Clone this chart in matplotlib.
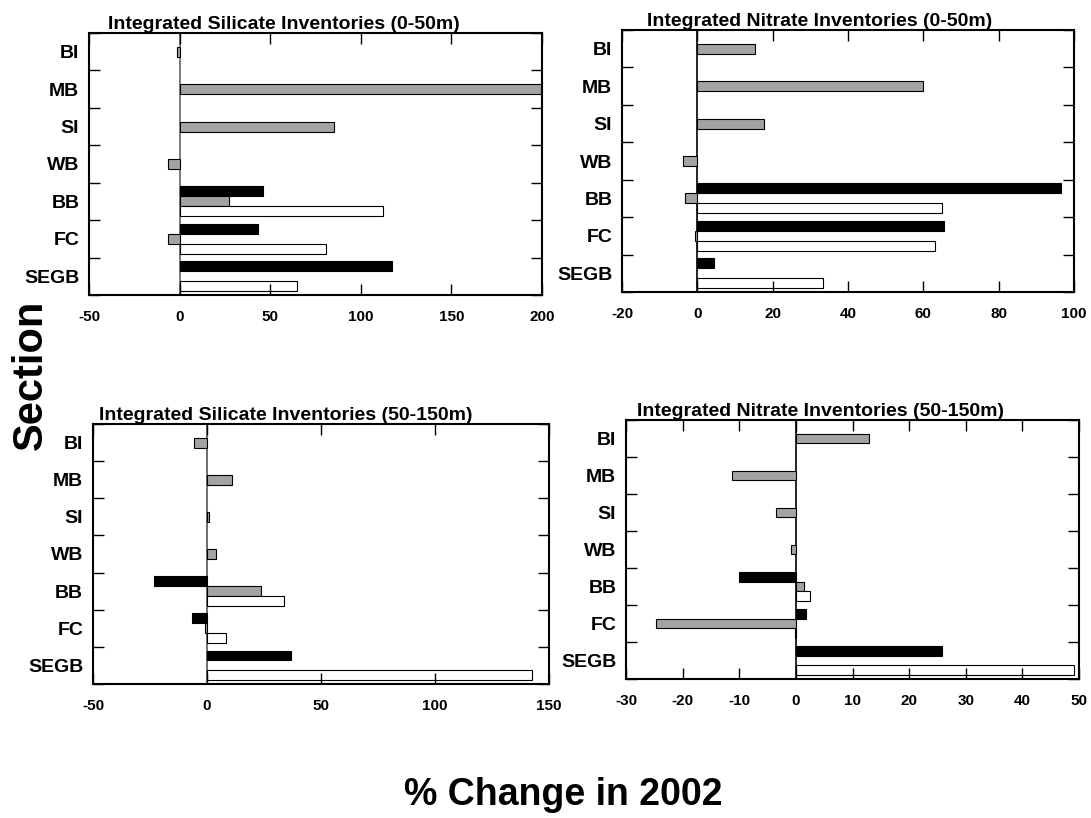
import numpy as np
import matplotlib.pyplot as plt

plt.rcParams['font.family'] = ['Liberation Sans', 'DejaVu Sans']
plt.rcParams['font.weight'] = 'bold'

sections = ['BI', 'MB', 'SI', 'WB', 'BB', 'FC', 'SEGB']
nan = np.nan

# silicate 0-50m
si_top_black = [nan, nan, nan, nan, 46, 43, 117]
si_top_grey = [-1.2, 200, 85, -6.2, 27, -6.2, nan]
si_top_white = [nan, nan, nan, nan, 112, 81, 65]

# nitrate 0-50m
no3_top_black = [nan, nan, nan, nan, 96.6, 65.5, 4.5]
no3_top_grey = [15.4, 59.8, 17.7, -3.9, -3.2, -0.6, nan]
no3_top_white = [nan, nan, nan, nan, 64.9, 63, 33.4]

# silicate 50-150m
si_deep_black = [nan, nan, nan, nan, -23.2, -6.5, 36.8]
si_deep_grey = [-5.7, 10.8, 0.8, 4, 23.5, -1, nan]
si_deep_white = [nan, nan, nan, nan, 33.7, 8.3, 142.5]

# nitrate 50-150m
no3_deep_black = [nan, nan, nan, nan, -10, 1.8, 25.8]
no3_deep_grey = [13, -11.3, -3.6, -0.9, 1.35, -24.7, nan]
no3_deep_white = [nan, nan, nan, nan, 2.5, -0.2, 49.1]

panels = [
    ('Integrated Silicate Inventories (0-50m)', si_top_black, si_top_grey, si_top_white,
     [-50, 0, 50, 100, 150, 200], [0.0816, 0.6394, 0.4152, 0.3203], 0.26, '#666666'),
    ('Integrated Nitrate Inventories (0-50m)', no3_top_black, no3_top_grey, no3_top_white,
     [-20, 0, 20, 40, 60, 80, 100], [0.5701, 0.6430, 0.4143, 0.3203], 0.751, 'black'),
    ('Integrated Silicate Inventories (50-150m)', si_deep_black, si_deep_grey, si_deep_white,
     [-50, 0, 50, 100, 150], [0.0852, 0.1638, 0.4180, 0.3179], 0.262, '#555555'),
    ('Integrated Nitrate Inventories (50-150m)', no3_deep_black, no3_deep_grey, no3_deep_white,
     [-30, -20, -10, 0, 10, 20, 30, 40, 50], [0.5738, 0.1699, 0.4152, 0.3167], 0.752, 'black'),
]

fig = plt.figure(figsize=(10.91, 8.18), dpi=100)

y = np.arange(len(sections))
h = 0.268
for title, black, grey, white, xt, rect, tx, zc in panels:
    ax = fig.add_axes(rect)
    ax.barh(y - h, black, height=h, color='black', edgecolor='black', linewidth=0.8)
    ax.barh(y, grey, height=h, color='#a3a3a3', edgecolor='black', linewidth=0.8)
    ax.barh(y + h, white, height=h, color='white', edgecolor='black', linewidth=0.8)
    ax.axvline(0, color=zc, linewidth=1.2, zorder=0.5)
    ax.set_xlim(xt[0], xt[-1])
    ax.set_ylim(len(sections) - 0.5, -0.5)
    ax.set_xticks(xt)
    ax.set_xticklabels([str(v) for v in xt], fontsize=11, fontweight='bold')
    ax.set_yticks(y)
    ax.set_yticklabels(sections, fontsize=14, fontweight='bold')
    # boundaries between sections get the inward ticks
    ax.set_yticks(np.arange(len(sections) + 1) - 0.5, minor=True)
    ax.tick_params(axis='y', which='major', length=0, pad=7)
    ax.tick_params(axis='y', which='minor', direction='in', length=8, width=1,
                   left=True, right=True)
    ax.tick_params(axis='x', direction='in', length=8, width=1, top=True,
                   bottom=True, pad=11)
    for s in ax.spines.values():
        s.set_linewidth(1.5)
    fig.text(tx, rect[1] + rect[3] + 0.005, title, fontsize=14, fontweight='bold',
             ha='center', va='baseline')

fig.text(0.028, 0.5416, 'Section', rotation=90, fontsize=30, fontweight='bold',
         ha='center', va='center')
fig.text(0.516, 0.0159, '% Change in 2002', fontsize=27, fontweight='bold',
         ha='center', va='baseline')

fig.savefig('out.png', dpi=100)
